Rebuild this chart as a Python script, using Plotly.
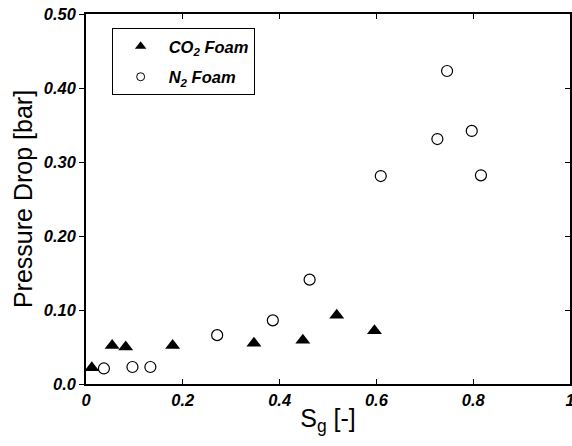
import plotly.graph_objects as go

co2_sg = [0.012, 0.054, 0.082, 0.179, 0.347, 0.448, 0.518, 0.596]
co2_dp = [0.022, 0.052, 0.050, 0.052, 0.055, 0.059, 0.093, 0.072]

n2_sg = [0.037, 0.096, 0.133, 0.271, 0.386, 0.462, 0.609, 0.726, 0.746, 0.797, 0.816]
n2_dp = [0.021, 0.023, 0.023, 0.066, 0.086, 0.141, 0.281, 0.331, 0.423, 0.342, 0.282]

x_ticks = [0, 0.2, 0.4, 0.6, 0.8, 1.0]
x_ticktext = ["0", "0.2", "0.4", "0.6", "0.8", "1"]
y_ticks = [0, 0.1, 0.2, 0.3, 0.4, 0.5]
y_ticktext = ["0.0", "0.10", "0.20", "0.30", "0.40", "0.50"]

FONT = "Liberation Sans, Arial, sans-serif"
tickfont = dict(family=FONT, size=16.5, color="black", weight="bold", style="italic")

fig = go.Figure()
fig.add_trace(go.Scatter(
    x=co2_sg, y=co2_dp, mode="markers", name="CO<sub>2</sub> Foam", showlegend=False,
    marker=dict(symbol="triangle-up", size=13, color="black", line=dict(width=0)),
))
fig.add_trace(go.Scatter(
    x=n2_sg, y=n2_dp, mode="markers", name="N<sub>2</sub> Foam", showlegend=False,
    marker=dict(symbol="circle-open", size=11, color="black", line=dict(width=1.2, color="black")),
))
# legend entries (smaller symbols as in the reference legend)
fig.add_trace(go.Scatter(
    x=[None], y=[None], mode="markers", name="CO<sub>2</sub> Foam", legendgroup="a",
    marker=dict(symbol="triangle-up", size=10, color="black", line=dict(width=0)),
))
fig.add_trace(go.Scatter(
    x=[None], y=[None], mode="markers", name="N<sub>2</sub> Foam", legendgroup="b",
    marker=dict(symbol="circle-open", size=8, color="black", line=dict(width=1, color="black")),
))

fig.update_layout(
    width=572, height=446,
    margin=dict(l=86, r=2, t=14, b=62),
    paper_bgcolor="white", plot_bgcolor="white",
    showlegend=True,
    legend=dict(
        x=0.053, y=0.962, xanchor="left", yanchor="top",
        bordercolor="black", borderwidth=1, bgcolor="white",
        font=dict(family=FONT, size=16.5, color="black", weight="bold", style="italic"),
        itemwidth=46, tracegroupgap=6, traceorder="grouped", itemsizing="trace",
    ),
    xaxis=dict(
        range=[0, 1], tickvals=x_ticks, ticktext=x_ticktext,
        ticks="inside", ticklen=5, tickcolor="black", mirror="ticks",
        showline=True, linecolor="black", linewidth=1.5, showgrid=False, zeroline=False,
        tickfont=tickfont, ticklabeloverflow="allow", automargin=False,
        title=dict(text="S<sub>g</sub> [-]", font=dict(family=FONT, size=25, color="black"), standoff=2),
    ),
    yaxis=dict(
        range=[0, 0.5], tickvals=y_ticks, ticktext=y_ticktext,
        ticks="outside", ticklen=5, tickcolor="black",
        showline=True, linecolor="black", linewidth=1.5, showgrid=False, zeroline=False,
        tickfont=tickfont, automargin=False,
        title=dict(text="Pressure Drop [bar]", font=dict(family=FONT, size=25, color="black"), standoff=4),
    ),
    yaxis2=dict(
        range=[0, 0.5], tickvals=y_ticks, overlaying="y", side="right",
        ticks="inside", ticklen=5, tickcolor="black", showticklabels=False,
        showline=True, linecolor="black", linewidth=1.5, showgrid=False, zeroline=False,
        automargin=False,
    ),
)
fig.add_trace(go.Scatter(x=[None], y=[None], yaxis="y2", showlegend=False, hoverinfo="skip"))

fig.write_html("out.html")
